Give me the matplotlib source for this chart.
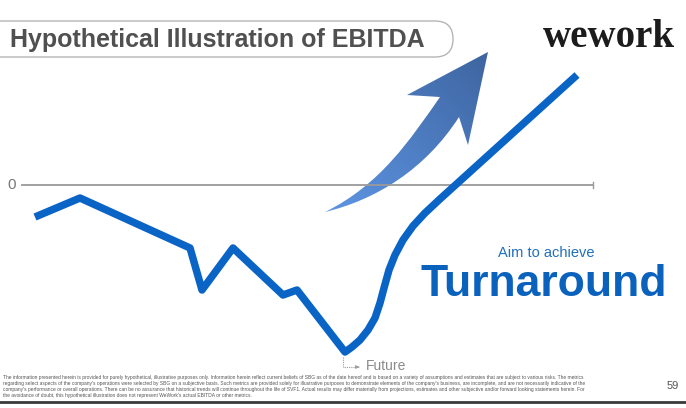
import numpy as np
import matplotlib
matplotlib.use("Agg")
from matplotlib import pyplot as plt
from matplotlib.patches import FancyBboxPatch, PathPatch
from matplotlib.path import Path

# EBITDA path (x = time position, y = EBITDA, 0 = break-even)
period = [35, 80, 190, 202, 233, 283, 297, 345, 352, 360, 368, 375, 380, 384, 389, 395, 403, 413, 425, 440, 577]
ebitda = [-32, -13, -63, -105, -63, -110, -105, -167, -162, -155, -145, -133, -118, -103, -85, -70, -55, -41, -28, -14, 110]

title = "Hypothetical Illustration of EBITDA"
footnote = [
    "The information presented herein is provided for purely hypothetical, illustrative purposes only. Information herein reflect current beliefs of SBG as of the date hereof and is based on a variety of assumptions and estimates that are subject to various risks. The metrics",
    "regarding select aspects of the company's operations were selected by SBG on a subjective basis. Such metrics are provided solely for illustrative purposes to demonstrate elements of the company's business, are incomplete, and are not necessarily indicative of the",
    "company's performance or overall operations. There can be no assurance that historical trends will continue throughout the life of SVF1. Actual results may differ materially from projections, estimates and other subjective and/or forward looking statements herein. For",
    "the avoidance of doubt, this hypothetical illustration does not represent WeWork's actual EBITDA or other metrics.",
]

plt.rcParams['font.family'] = ['Liberation Sans', 'DejaVu Sans']

fig = plt.figure(figsize=(6.86, 4.08), dpi=100)
fig.patch.set_facecolor("white")

# decoration layer in pixel coordinates
deco = fig.add_axes([0, 0, 1, 1])
deco.set_xlim(0, 686)
deco.set_ylim(408, 0)
deco.axis("off")

# chart layer
ax = fig.add_axes([0, 0, 1, 1])
ax.set_xlim(0, 686)
ax.set_ylim(-223, 185)
ax.axis("off")
ax.patch.set_alpha(0)

# zero line
ax.plot([22, 593], [0, 0], color="#9a9a9a", lw=1.3, zorder=1)
ax.plot([593, 593], [-3, 3], color="#9a9a9a", lw=1.0, zorder=1)
ax.text(16, 0, "0", color="#777777", fontsize=11, ha="right", va="center")

# EBITDA line
ax.plot(period, ebitda, color="#0a64c6", lw=5.4, solid_joinstyle="round",
        solid_capstyle="butt", zorder=3)

# gradient arrow
verts = [(325, 212), (375, 200), (425, 170), (459, 117), (468, 145), (488, 52),
         (407, 95), (440, 97), (410, 140), (380, 185), (325, 212), (325, 212)]
codes = [Path.MOVETO, Path.CURVE4, Path.CURVE4, Path.CURVE4, Path.LINETO, Path.LINETO,
         Path.LINETO, Path.LINETO, Path.CURVE4, Path.CURVE4, Path.CURVE4, Path.CLOSEPOLY]
arrow = PathPatch(Path(verts, codes), facecolor="none", edgecolor="none")
deco.add_patch(arrow)
gx, gy = np.meshgrid(np.linspace(0, 1, 200), np.linspace(0, 1, 200))
t = np.clip((gx + (1 - gy)) / 2, 0, 1)
c0 = np.array([0.37, 0.59, 0.90])
c1 = np.array([0.24, 0.39, 0.62])
img = c0 + (c1 - c0) * t[..., None]
im = deco.imshow(img, extent=[320, 492, 216, 48], origin="upper", zorder=2, aspect="auto")
im.set_clip_path(arrow)

# title pill
pill = FancyBboxPatch((-40, 21), 493, 36, boxstyle="round,pad=0,rounding_size=18",
                      facecolor="white", edgecolor="#b5b5b5", lw=1.0, zorder=4)
deco.add_patch(pill)
deco.text(10, 40, title, fontsize=18, fontweight="bold", color="#505050",
          va="center", ha="left", zorder=5)

# logo
deco.text(609, 47, "wework", family=["Liberation Serif", "DejaVu Serif"], fontsize=28,
          fontweight="bold", color="#1c1c1c", ha="center", va="baseline")

# turnaround message
deco.text(546, 253, "Aim to achieve", fontsize=10.5, color="#1f6fc0", ha="center", va="center")
deco.text(544, 284, "Turnaround", fontsize=32, fontweight="bold", color="#0b62bd",
          ha="center", va="center")

# future marker
deco.plot([343, 343, 358], [357, 367, 367], color="#9a9a9a", lw=0.8, ls=(0, (1, 1)))
deco.annotate("", xy=(362, 367), xytext=(356, 367),
              arrowprops=dict(arrowstyle="-|>", color="#9a9a9a", lw=0.6, mutation_scale=5))
deco.text(366, 366, "Future", fontsize=10, color="#8a8a8a", ha="left", va="center")

# footnote
for i, line in enumerate(footnote):
    deco.text(3, 378 + i * 6.0, line, fontsize=3.55, color="#555555", ha="left", va="center")
deco.text(679, 386, "59", fontsize=8, color="#555555", ha="right", va="center")
deco.plot([0, 686], [402, 402], color="#3a3a3a", lw=2.0)

fig.savefig("out.png", dpi=100, facecolor="white")
